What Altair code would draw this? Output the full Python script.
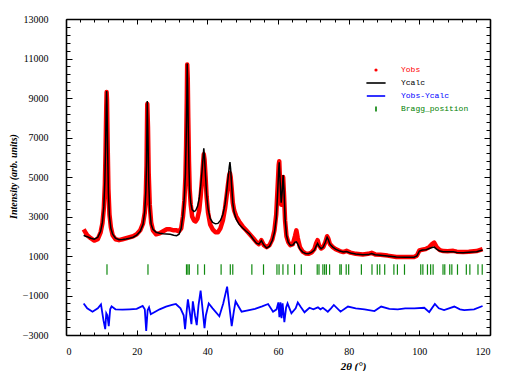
import altair as alt
import pandas as pd

# ---------------- data ----------------
two_theta = [5.0, 5.5, 6.0, 7.0, 8.0, 9.0, 9.8, 10.3, 10.7, 11.0, 11.2, 11.4, 11.5, 11.6, 11.8, 12.0,
             12.3, 12.7, 13.2, 14.0, 15.0, 16.0, 17.0, 18.0, 19.0, 20.0, 21.0, 21.8, 22.3, 22.6, 22.8,
             23.0, 23.2, 23.4, 23.7, 24.1, 24.6, 25.5, 26.5, 27.5, 28.5, 29.5, 30.5, 31.3, 32.0, 32.6,
             33.1, 33.5, 33.8, 34.0, 34.2, 34.3, 34.45, 34.6, 34.8, 35.0, 35.3, 35.7, 36.2, 36.7, 37.2,
             37.7, 38.1, 38.5, 38.8, 39.0, 39.2, 39.5, 39.8, 40.2, 40.8, 41.5, 42.3, 43.0, 43.7, 44.4,
             45.0, 45.5, 45.9, 46.2, 46.4, 46.6, 46.9, 47.2, 47.6, 48.2, 49.0, 50.0, 51.0, 52.0, 53.0,
             53.9, 54.6, 55.3, 56.0, 56.8, 57.6, 58.4, 59.0, 59.5, 59.9, 60.2, 60.35, 60.6, 60.9, 61.2,
             61.45, 61.7, 62.0, 62.4, 62.9, 63.5, 64.2, 64.8, 65.2, 65.6, 66.2, 67.0, 67.8, 68.6, 69.5,
             70.3, 70.8, 71.2, 71.6, 72.2, 72.8, 73.4, 73.9, 74.2, 74.7, 75.5, 76.3, 77.5, 78.5, 79.4,
             80.5, 82.0, 84.0, 85.5, 86.5, 87.5, 89.0, 91.0, 93.5, 96.0, 98.5, 99.3, 100.0, 100.8, 101.8,
             102.8, 103.6, 104.2, 104.9, 105.8, 106.8, 108.0, 109.6, 110.6, 112.4, 114.0, 116.2, 117.9]
y_calc = [2050, 2000, 1980, 1900, 1850, 1950, 2250, 2700, 3500, 4800, 6500, 8600, 9350, 8700, 6200, 4200,
          3000, 2400, 2100, 1900, 1820, 1830, 1860, 1900, 1950, 2050, 2250, 2600, 3300, 4300, 5800,
          8850, 7000, 4800, 3400, 2600, 2350, 2200, 2150, 2130, 2120, 2100, 2050, 2030, 2100, 2400,
          3100, 4000, 5200, 6800, 9000, 10750, 9500, 7500, 5500, 4300, 3700, 3350, 3250, 3300, 3500,
          3900, 4500, 5300, 6000, 6450, 6000, 5000, 4100, 3400, 2900, 2700, 2630, 2650, 2800, 3100,
          3600, 4300, 5000, 5500, 5750, 5400, 4500, 3700, 3200, 2850, 2600, 2420, 2250, 2100, 1850,
          1650, 1600, 1780, 1550, 1400, 1500, 1800, 2200, 2900, 4200, 5400, 5750, 4800, 3700, 4300,
          5100, 4300, 2900, 2050, 1700, 1550, 1560, 1700, 1720, 1600, 1350, 1200, 1130, 1120, 1180,
          1300, 1500, 1640, 1500, 1370, 1450, 1700, 1950, 1850, 1600, 1450, 1350, 1250, 1200, 1230,
          1150, 1100, 1060, 1070, 1120, 1060, 1040, 1000, 950, 940, 940, 1000, 1250, 1300, 1310,
          1380, 1430, 1450, 1350, 1250, 1220, 1210, 1220, 1180, 1170, 1190, 1220, 1300]
y_obs = [2350, 2200, 2050, 1900, 1780, 1850, 2200, 2650, 3400, 4600, 6300, 8500, 9300, 8900, 6500, 4400,
         3100, 2450, 2050, 1850, 1800, 1850, 1900, 1950, 2000, 2100, 2300, 2650, 3200, 4200, 5600,
         8700, 7500, 5200, 3600, 2700, 2300, 2100, 2150, 2250, 2350, 2350, 2300, 2300, 2250, 2400,
         3000, 3800, 5000, 6600, 9000, 10700, 10000, 8000, 5800, 4400, 3600, 3000, 2800, 2750, 2900,
         3300, 4000, 4900, 5700, 6150, 5900, 5000, 4000, 3200, 2600, 2350, 2200, 2200, 2400, 2800,
         3400, 4100, 4700, 5100, 5200, 5000, 4400, 3700, 3300, 3000, 2750, 2500, 2300, 2100, 1900,
         1700, 1600, 1800, 1550, 1450, 1550, 1850, 2300, 3100, 4500, 5600, 5800, 4700, 3600, 4300,
         5000, 4100, 2800, 2000, 1700, 1550, 1600, 2000, 2300, 1900, 1450, 1220, 1130, 1110, 1180,
         1350, 1650, 1800, 1550, 1380, 1450, 1700, 2000, 1900, 1600, 1450, 1350, 1250, 1200, 1260,
         1170, 1110, 1080, 1110, 1160, 1080, 1060, 1020, 950, 950, 950, 1020, 1280, 1320, 1350,
         1450, 1600, 1680, 1450, 1300, 1250, 1240, 1260, 1220, 1200, 1210, 1250, 1350]

diff_theta = [5.0, 6.0, 7.5, 9.0, 9.9, 10.6, 11.1, 11.4, 11.7, 12.1, 12.5, 12.9, 14.0, 16.0, 18.0, 20.0,
              21.7, 22.3, 22.7, 23.1, 23.5, 24.0, 25.0, 26.5, 28.3, 30.0, 31.1, 32.4, 33.3, 33.7, 34.2,
              34.5, 35.0, 35.5, 35.9, 36.5, 37.0, 37.5, 38.1, 38.6, 39.2, 39.6, 40.4, 41.5, 43.4, 44.5,
              45.6, 46.2, 46.9, 47.5, 48.0, 49.7, 51.5, 53.5, 55.5, 57.2, 58.6, 59.6, 60.1, 60.4, 60.7,
              61.0, 61.3, 61.8, 62.3, 62.7, 63.8, 65.0, 65.6, 66.5, 67.5, 68.9, 70.0, 71.3, 72.0, 72.7,
              74.1, 75.0, 75.8, 77.7, 79.8, 82.0, 84.5, 87.3, 89.2, 91.5, 93.9, 96.0, 98.6, 101.4, 102.8,
              104.4, 105.5, 107.0, 109.9, 111.5, 112.7, 115.5, 117.9]
y_diff = [-1400, -1650, -1820, -1650, -1450, -2250, -2700, -1900, -2000, -2550, -1700, -1550, -1700,
          -1720, -1700, -1680, -1530, -1700, -2800, -1750, -1600, -1950, -1850, -1700, -1560, -1480,
          -1430, -1650, -2000, -2700, -1700, -1200, -1800, -2450, -1300, -2000, -2500, -1500, -750,
          -1600, -2650, -2000, -1400, -1650, -2050, -1400, -550, -1500, -2550, -1800, -1300, -1820,
          -1750, -1680, -1550, -1430, -1820, -1700, -1350, -2100, -1350, -2150, -1400, -2350, -1600,
          -1400, -1900, -1650, -1350, -1600, -1850, -1620, -1700, -1600, -1700, -1620, -1820, -1650,
          -1480, -1820, -1560, -1650, -1700, -1790, -1560, -1680, -1700, -1650, -1650, -1620, -1840,
          -1430, -1650, -1740, -1560, -1700, -1740, -1700, -1530]

bragg_pos = [11.6, 23.2, 34.1, 34.5, 34.9, 37.3, 39.2, 43.9, 46.5, 47.2, 52.6, 55.9, 59.7, 60.3, 61.4,
             62.8, 64.7, 66.6, 71.1, 71.6, 72.7, 73.2, 73.7, 74.6, 77.5, 77.9, 79.3, 80.0, 83.6, 86.6,
             88.1, 88.8, 90.2, 92.8, 93.8, 95.8, 100.4, 101.0, 102.3, 103.2, 103.9, 106.7, 107.2, 108.6,
             109.2, 110.8, 113.3, 114.3, 116.6, 117.8]

series_names = ["Yobs", "Ycalc", "Yobs-Ycalc", "Bragg_position"]
series_colors = ["#ff0000", "#000000", "#0000ff", "#008000"]
series_shapes = ["M-0.1,0A0.1,0.1 0 1,0 0.1,0A0.1,0.1 0 1,0 -0.1,0Z",
                 "M-1.2,0L1.2,0", "M-1.15,0L1.15,0", "M0,-0.32L0,0.32"]

x_ticks = list(range(0, 121, 4))
y_ticks = list(range(-3000, 13001, 400))

# ---------------- tables ----------------
profile = pd.DataFrame({"tt": two_theta, "obs": y_obs, "calc": y_calc})
diff = pd.DataFrame({"tt": diff_theta, "d": y_diff})
bragg = pd.DataFrame({"tt": bragg_pos})
legend_df = pd.DataFrame({"series": series_names})

xs = alt.Scale(domain=[0, 120], nice=False, zero=False)
ys = alt.Scale(domain=[-3000, 13000], nice=False, zero=False)

SERIF = "Liberation Serif, Times New Roman, serif"

common_axis = dict(
    domainColor="black", domainWidth=1.6, tickColor="black", tickWidth=1,
    grid=False, labelFont=SERIF, labelFontSize=10, labelColor="black",
)

x_bottom = alt.Axis(
    orient="bottom", values=x_ticks, format="d",
    labelExpr="datum.value % 20 == 0 ? datum.label : ''",
    tickSize=alt.ExprRef("datum.value % 20 == 0 ? -5 : -3"),
    labelPadding=16, labelAngle=0,
    title="2θ (°)", titleFont=SERIF, titleFontSize=11, titleFontStyle="italic",
    titleFontWeight="bold", titleX=287, titleY=31, titleAlign="center", titleBaseline="middle",
    titleAnchor="start",
    **common_axis,
)
y_left = alt.Axis(
    orient="left", values=y_ticks, format="d",
    labelExpr="abs(datum.value % 2000) == 1000 ? datum.label : ''",
    tickSize=alt.ExprRef("abs(datum.value % 2000) == 1000 ? -6 : -4"),
    labelPadding=24,
    title="Intensity (arb. units)", titleFont=SERIF, titleFontSize=10, titleFontStyle="italic",
    titleFontWeight="bold", titleX=-53, titleY=157, titleAlign="center", titleBaseline="middle",
    titleAngle=270, titleAnchor="start",
    **common_axis,
)
x_top = alt.Axis(
    orient="top", values=x_ticks, labels=False, title=None,
    tickSize=alt.ExprRef("datum.value % 20 == 0 ? -5 : -3"),
    **common_axis,
)
y_right = alt.Axis(
    orient="right", values=y_ticks, labels=False, title=None,
    tickSize=alt.ExprRef("abs(datum.value % 2000) == 1000 ? -6 : -4"),
    **common_axis,
)

obs_layer = alt.Chart(profile).mark_line(color="#ff0000", strokeWidth=4.5, strokeJoin="round").encode(
    x=alt.X("tt:Q", scale=xs, axis=x_bottom),
    y=alt.Y("obs:Q", scale=ys, axis=y_left),
)
calc_layer = alt.Chart(profile).mark_line(color="#000000", strokeWidth=1.5).encode(
    x=alt.X("tt:Q", scale=xs, axis=None),
    y=alt.Y("calc:Q", scale=ys, axis=None),
)
diff_layer = alt.Chart(diff).mark_line(color="#0000ff", strokeWidth=1.8).encode(
    x=alt.X("tt:Q", scale=xs, axis=None),
    y=alt.Y("d:Q", scale=ys, axis=None),
)
bragg_layer = alt.Chart(bragg).mark_rule(color="#118a11", strokeWidth=1.2).encode(
    x=alt.X("tt:Q", scale=xs, axis=None),
    y=alt.datum(50, scale=ys, axis=None),
    y2=alt.datum(580),
)

legend_layer = alt.Chart(legend_df).transform_filter("false").mark_point(
    filled=False, strokeWidth=1.5, opacity=1
).encode(
    x=alt.X("tt:Q", scale=xs, axis=x_top),
    y=alt.Y("v:Q", scale=ys, axis=y_right),
    color=alt.Color(
        "series:N",
        scale=alt.Scale(domain=series_names, range=series_colors),
        legend=alt.Legend(
            title=None, orient="none", legendX=301, legendY=42, padding=0,
            symbolSize=256, symbolStrokeWidth=1.6, rowPadding=0, labelOffset=16,
            labelFont="Liberation Mono", labelFontSize=8,
            labelColor=alt.ExprRef(
                "datum.value == 'Yobs' ? '#ff0000' : datum.value == 'Ycalc' ? '#000000' : "
                "datum.value == 'Yobs-Ycalc' ? '#0000ff' : '#008000'"
            ),
        ),
    ),
    shape=alt.Shape(
        "series:N",
        scale=alt.Scale(domain=series_names, range=series_shapes),
        legend=alt.Legend(title=None),
    ),
)

chart = alt.layer(
    obs_layer, calc_layer, diff_layer, bragg_layer, legend_layer
).resolve_axis(
    x="independent", y="independent"
).properties(
    width=424, height=316,
    autosize=alt.AutoSizeParams(type="none"),
    padding={"left": 58, "top": 11, "right": 20, "bottom": 36},
    background="white",
).configure_view(stroke=None)

chart.save("out.html", embed_options={"renderer": "svg", "actions": False})
